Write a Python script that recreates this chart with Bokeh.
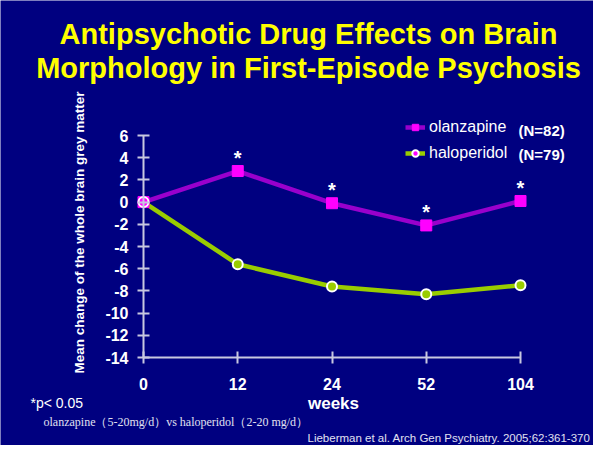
import math
from bokeh.plotting import figure
from bokeh.models import (ColumnDataSource, Label, Legend, LegendItem, FixedTicker,
                          Range1d, LinearAxis)
from bokeh.embed import file_html
from bokeh.resources import INLINE
from bokeh.core.properties import value

# ---- data ----
weeks = ["0", "12", "24", "52", "104"]
olanzapine = [0.0, 2.8, -0.1, -2.1, 0.1]
haloperidol = [0.0, -5.6, -7.6, -8.3, -7.5]
significant = [False, True, True, True, True]
y_ticks = [-14, -12, -10, -8, -6, -4, -2, 0, 2, 4, 6]

NAVY = "#000080"
PURPLE = "#9900CC"
MAGENTA = "#FF00FF"
GREEN = "#99CC00"
AXIS = "#C8C8E0"
FONT = "Liberation Sans"

W, H = 593, 445
# pixel placement of the plotting box inside the canvas
PX_LEFT, PX_RIGHT, PX_TOP, PX_BOTTOM = 143, 520, 135, 357

xs = list(range(len(weeks)))
y_lo, y_hi = min(y_ticks), max(y_ticks)
x_lo, x_hi = xs[0], xs[-1]
xppu = (PX_RIGHT - PX_LEFT) / (x_hi - x_lo)
yppu = (PX_BOTTOM - PX_TOP) / (y_hi - y_lo)
x_range = Range1d(x_lo - PX_LEFT / xppu, x_hi + (W - PX_RIGHT) / xppu)
y_range = Range1d(y_lo - (H - PX_BOTTOM) / yppu, y_hi + PX_TOP / yppu)

hal_fill = [MAGENTA if v == 0 and o == 0 else GREEN for v, o in zip(haloperidol, olanzapine)]
src = ColumnDataSource(dict(x=xs, ol=olanzapine, ha=haloperidol, hfill=hal_fill))
sig_src = ColumnDataSource(dict(
    x=[x for x, s in zip(xs, significant) if s],
    y=[v for v, s in zip(olanzapine, significant) if s],
    t=["*" for s in significant if s],
))

p = figure(width=W, height=H, output_backend="svg", toolbar_location=None,
           x_range=x_range, y_range=y_range, x_axis_location=None, y_axis_location=None,
           min_border=0, background_fill_color=NAVY, border_fill_color=NAVY,
           outline_line_color=None)
p.grid.visible = False

xaxis = LinearAxis(fixed_location=y_lo, bounds=(x_lo, x_hi), ticker=FixedTicker(ticks=xs),
                   major_label_overrides={i: w for i, w in zip(xs, weeks)},
                   major_label_standoff=14)
yaxis = LinearAxis(fixed_location=x_lo, bounds=(y_lo, y_hi), ticker=FixedTicker(ticks=y_ticks),
                   major_label_overrides={t: str(t) for t in y_ticks},
                   major_label_standoff=9)
for ax in (xaxis, yaxis):
    ax.axis_line_color = AXIS
    ax.axis_line_width = 2
    ax.major_tick_line_color = AXIS
    ax.major_tick_line_width = 2
    ax.major_tick_in = 6
    ax.major_tick_out = 6
    ax.minor_tick_line_color = None
    ax.major_label_text_color = "white"
    ax.major_label_text_font = FONT
    ax.major_label_text_font_style = "bold"
    ax.major_label_text_font_size = "16px"
p.add_layout(xaxis, "below")
p.add_layout(yaxis, "left")

# data
hl = p.line("x", "ha", source=src, line_color=GREEN, line_width=4.5)
ol = p.line("x", "ol", source=src, line_color=PURPLE, line_width=4.5)
om = p.scatter("x", "ol", source=src, marker="square", size=11, fill_color=MAGENTA,
               line_color=MAGENTA)
hm = p.scatter("x", "ha", source=src, marker="circle", size=10, fill_color="hfill",
               line_color="white", line_width=2)

p.text("x", "y", text="t", source=sig_src, text_color="white", text_font=value(FONT),
       text_font_style="bold", text_font_size="20px", text_align="center",
       text_baseline="alphabetic", y_offset=-13)

legend = Legend(items=[LegendItem(label="olanzapine", renderers=[ol, om]),
                       LegendItem(label="haloperidol", renderers=[hl, hm])],
                location=(405, H - 162), padding=0, margin=0, spacing=8,
                glyph_width=20, glyph_height=16, label_height=16, label_standoff=4,
                label_text_color="white", label_text_font=FONT, label_text_font_size="16px",
                background_fill_alpha=0, border_line_alpha=0)
p.add_layout(legend)

def lab(text, x, y, size, color="white", style="normal", align="left", baseline="middle",
        font=FONT, angle=0):
    # x, y given in canvas pixels from the top-left corner
    p.add_layout(Label(x=x, y=H - y, x_units="screen", y_units="screen", text=text,
                       text_color=color, text_font=font, text_font_style=style,
                       text_font_size=size, text_align=align, text_baseline=baseline,
                       angle=angle))

lab("(N=82)", 518, 130, "15px", style="bold")
lab("(N=79)", 518, 154, "15px", style="bold")

lab("Antipsychotic Drug Effects on Brain", 308, 33, "29px", color="#FFFF00", style="bold",
    align="center", baseline="alphabetic")
lab("Morphology in First-Episode Psychosis", 308, 67, "29px", color="#FFFF00", style="bold",
    align="center", baseline="alphabetic")

lab("Mean change of the whole brain grey matter", 79, 232, "13.5px", style="bold",
    align="center", angle=math.pi / 2)

lab("weeks", 333, 403, "17px", style="bold", align="center")
lab("*p< 0.05", 30, 402, "14px")
lab("olanzapine（5-20mg/d）vs haloperidol（2-20 mg/d）", 43, 421, "12px",
    color="#E0E0F0", font="Liberation Serif")
lab("Lieberman et al. Arch Gen Psychiatry. 2005;62:361-370", 590, 437, "11.5px",
    color="#E0E0F0", align="right")

open("out.html", "w").write(file_html(p, INLINE))
